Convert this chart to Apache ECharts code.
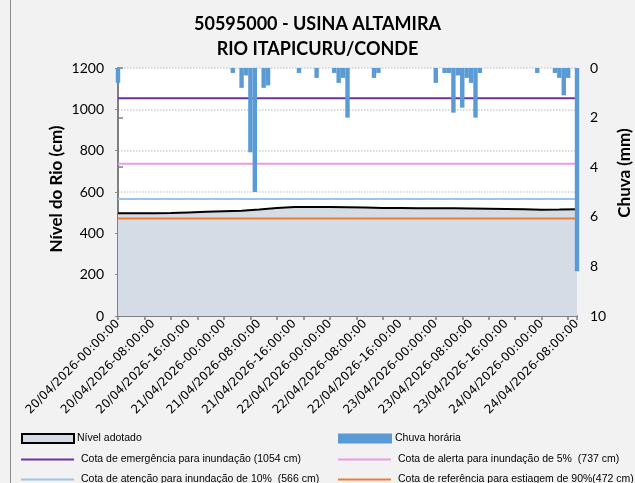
<!DOCTYPE html>
<html><head><meta charset="utf-8">
<script src="https://cdn.jsdelivr.net/npm/echarts@6/dist/echarts.min.js"></script>
<style>html,body{margin:0;padding:0;background:#F2F2F2}#c{width:635px;height:483px}</style>
</head><body><div id="c"></div>
<script>
const titleText = '50595000 - USINA ALTAMIRA\nRIO ITAPICURU/CONDE';
const yLeftTitle = 'Nível do Rio (cm)';
const yRightTitle = 'Chuva (mm)';
const xTickLabels = [
  '20/04/2026-00:00:00','20/04/2026-08:00:00','20/04/2026-16:00:00',
  '21/04/2026-00:00:00','21/04/2026-08:00:00','21/04/2026-16:00:00',
  '22/04/2026-00:00:00','22/04/2026-08:00:00','22/04/2026-16:00:00',
  '23/04/2026-00:00:00','23/04/2026-08:00:00','23/04/2026-16:00:00',
  '24/04/2026-00:00:00','24/04/2026-08:00:00'
];
// hours since 20/04/2026 00:00
const levelHours  = [0,4,8,12,16,20,24,28,32,36,40,44,48,52,56,60,64,68,72,76,80,84,88,92,96,100,104];
const levelValues = [497,497,497,498,501,504,507,509,515,522,527,528,527,526,525,523,522,521,521,521,520,519,518,516,514,515,517];
// hourly rain (mm), hours 0..104
const rainHourly = [
  0.6,0,0,0,0,0,0,0,
  0,0,0,0,0,0,0,0,
  0,0,0,0,0,0,0,0,
  0,0,0.2,0,0.8,0.3,3.4,5.0,
  0,0.8,0.7,0,0,0,0,0,
  0,0.2,0,0,0,0.4,0,0,
  0,0.2,0.6,0.4,2.0,0,0,0,
  0,0,0.4,0.2,0,0,0,0,
  0,0,0,0,0,0,0,0,
  0.6,0,0.2,0.2,1.8,0.3,1.6,0.4,
  0.6,2.0,0.2,0,0,0,0,0,
  0,0,0,0,0,0,0,0.2,
  0,0,0,0.2,0.4,1.1,0.4,0,
  8.2
];
const levelName = 'Nível adotado';
const rainName = 'Chuva horária';
const thresholdNames = [
  'Cota de emergência para inundação (1054 cm)',
  'Cota de alerta para inundação de 5%  (737 cm)',
  'Cota de atenção para inundação de 10%  (566 cm)',
  'Cota de referência para estiagem de 90%(472 cm)'
];
const thresholdValues = [1054, 737, 566, 472];
const thresholdColors = ['#7030A0', '#EA9BE8', '#9DC3E6', '#ED7D31'];
const xMin = 0, xMax = 104;

const chart = echarts.init(document.getElementById('c'), null, {renderer: 'canvas'});
const legendFont = {fontFamily: 'Liberation Sans', fontSize: 10.5, color: '#000'};
const legendPos = [
  {left: 21, top: 433}, {left: 338, top: 433},
  {left: 21, top: 454}, {left: 338, top: 454},
  {left: 21, top: 474}, {left: 338, top: 474}
];
const legends = [];
legends.push({left: legendPos[0].left, top: legendPos[0].top, padding: 0, itemWidth: 52, itemHeight: 9,
  textStyle: Object.assign({padding: [0,0,0,-2]}, legendFont), selectedMode: false,
  data: [{name: levelName, icon: 'rect', itemStyle: {color: '#D6DCE5', borderColor: '#000', borderWidth: 2}}]});
legends.push({left: legendPos[1].left, top: legendPos[1].top, padding: 0, itemWidth: 54, itemHeight: 10,
  textStyle: Object.assign({padding: [0,0,0,-2]}, legendFont), selectedMode: false,
  data: [{name: rainName, icon: 'rect'}]});
thresholdNames.forEach((n, i) => {
  legends.push({left: legendPos[i+2].left, top: legendPos[i+2].top, padding: 0, itemWidth: 53, itemHeight: 2,
    textStyle: Object.assign({padding: [0,0,0,2]}, legendFont), selectedMode: false,
    data: [{name: n, icon: 'rect'}]});
});

const series = [];
series.push({
  name: levelName, type: 'line', xAxisIndex: 0, yAxisIndex: 0, z: 2,
  data: levelHours.map((h, i) => [h, levelValues[i]]),
  symbol: 'none', smooth: false, color: '#D6DCE5',
  lineStyle: {color: '#000', width: 2},
  areaStyle: {color: '#D6DCE5', opacity: 1}
});
thresholdNames.forEach((n, i) => {
  series.push({
    name: n, type: 'line', xAxisIndex: 0, yAxisIndex: 0, z: 3,
    data: [[xMin, thresholdValues[i]], [xMax, thresholdValues[i]]],
    symbol: 'none', color: thresholdColors[i],
    lineStyle: {color: thresholdColors[i], width: 2}
  });
});
series.push({
  name: rainName, type: 'bar', xAxisIndex: 2, yAxisIndex: 1, z: 4,
  data: rainHourly,
  barWidth: '100%', color: '#5B9BD5', clip: true,
  itemStyle: {color: '#5B9BD5'}
});

const titleFont = {fontFamily: 'Lato', fontWeight: 'bold', fontSize: 17, fill: '#000'};

chart.setOption({
  animation: false,
  backgroundColor: '#F2F2F2',
  title: {
    text: titleText, left: 'center', top: 7,
    textStyle: {fontFamily: 'Lato', fontWeight: 'bold', fontSize: 18, lineHeight: 25, color: '#000'}
  },
  graphic: [
    {type: 'line', shape: {x1: 10.5, y1: 0, x2: 10.5, y2: 483}, style: {stroke: '#8C8C8C', lineWidth: 1}},
    {type: 'text', x: 57, y: 189, rotation: Math.PI / 2,
      style: Object.assign({text: yLeftTitle, align: 'center', verticalAlign: 'middle'}, titleFont)},
    {type: 'text', x: 625, y: 173, rotation: Math.PI / 2,
      style: Object.assign({text: yRightTitle, align: 'center', verticalAlign: 'middle'}, titleFont)}
  ],
  legend: legends,
  grid: {left: 118, right: 58, top: 68, bottom: 167, show: true, backgroundColor: '#FFFFFF', borderWidth: 0},
  xAxis: [{
    type: 'value', min: xMin, max: xMax, interval: 8,
    axisLine: {show: true, onZero: false, lineStyle: {color: '#7F7F7F', width: 2}},
    axisTick: {show: false},
    splitLine: {show: false},
    axisLabel: {rotate: 45, fontFamily: 'DejaVu Sans', fontSize: 12, color: '#000', margin: 6,
      showMinLabel: true, showMaxLabel: true,
      formatter: v => xTickLabels[Math.round(v / 8)] || ''}
  }, {
    type: 'value', min: xMin, max: xMax, interval: 6, position: 'bottom',
    axisLine: {show: false}, splitLine: {show: false},
    axisTick: {show: true, length: 4, lineStyle: {color: '#7F7F7F', width: 1.5}},
    axisLabel: {show: false}
  }, {
    type: 'category', show: false, boundaryGap: false, position: 'bottom',
    data: rainHourly.map((_, i) => i)
  }],
  yAxis: [{
    type: 'value', min: 0, max: 1200, interval: 200, position: 'left',
    axisLine: {show: true, lineStyle: {color: '#8C8C8C', width: 1.5, type: 'dotted'}},
    axisTick: {show: true, length: 3, lineStyle: {color: '#8C8C8C'}},
    splitLine: {show: true, lineStyle: {color: '#D0D0D0', type: 'dotted', width: 1.5}},
    axisLabel: {fontFamily: 'Lato', fontSize: 14, color: '#000', margin: 14, formatter: v => String(v)}
  }, {
    type: 'value', min: 0, max: 10, interval: 2, position: 'right', inverse: true,
    axisLine: {show: true, lineStyle: {color: '#7F7F7F', width: 2}},
    axisTick: {show: true, length: 5, lineStyle: {color: '#7F7F7F', width: 1.5}},
    splitLine: {show: false},
    axisLabel: {fontFamily: 'Lato', fontSize: 14, color: '#000', margin: 13, formatter: v => String(v)}
  }],
  series: series
});
</script>
</body></html>
